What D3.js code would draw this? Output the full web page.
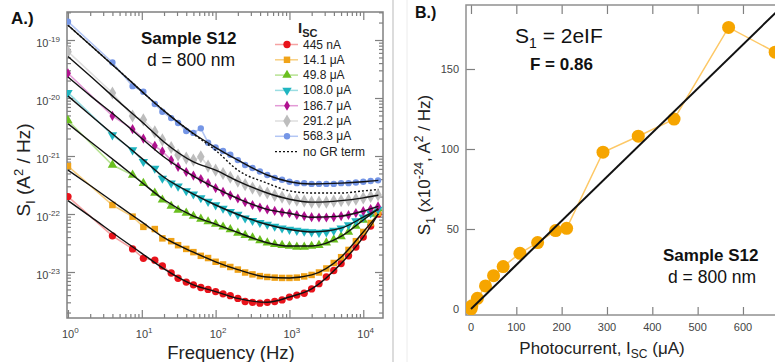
<!DOCTYPE html>
<html>
<head>
<meta charset="utf-8">
<script src="https://cdn.jsdelivr.net/npm/d3@7"></script>
<style>
  body { margin: 0; background: #fff; }
  svg { display: block; font-family: "Liberation Sans", Arial, sans-serif; }
</style>
</head>
<body>
<div id="chart"></div>
<script>
// ---- panel A: noise spectra, one array per photocurrent ----
const freqs = [1, 4, 7.5, 10.5, 15, 19, 25, 31, 40, 50, 63, 79, 100, 126, 158, 200, 251, 316, 398, 501,
  631, 794, 1000, 1259, 1585, 1995, 2512, 3162, 3981, 5012, 6310, 7943, 10000, 12589, 15849];

const red445 = [2.0e-22, 4.2e-23, 2.5e-23, 1.72e-23, 1.6e-23, 1.27e-23, 9.6e-24, 7.8e-24, 6.7e-24, 6.0e-24,
  5.4e-24, 5.0e-24, 4.6e-24, 4.2e-24, 3.9e-24, 3.5e-24, 3.1e-24, 3.0e-24, 2.9e-24, 3.0e-24,
  3.1e-24, 3.3e-24, 3.7e-24, 4.0e-24, 4.3e-24, 5.1e-24, 6.3e-24, 8.2e-24, 1.06e-23, 1.4e-23,
  1.9e-23, 2.7e-23, 4.0e-23, 6.2e-23, 1.0e-22];
const orange14 = [6.7e-22, 1.43e-22, 9.0e-23, 6.0e-23, 5.5e-23, 3.8e-23, 3.4e-23, 2.9e-23, 2.5e-23, 2.2e-23,
  1.9e-23, 1.74e-23, 1.5e-23, 1.35e-23, 1.22e-23, 1.1e-23, 9.8e-24, 9.1e-24, 8.5e-24, 8.2e-24,
  8.0e-24, 7.9e-24, 7.9e-24, 8.0e-24, 8.4e-24, 8.9e-24, 9.8e-24, 1.15e-23, 1.43e-23, 1.8e-23,
  2.4e-23, 3.4e-23, 4.9e-23, 7.0e-23, 1.05e-22];
const green49 = [4.1e-21, 7.0e-22, 4.7e-22, 3.4e-22, 2.3e-22, 1.75e-22, 1.37e-22, 1.17e-22, 1.04e-22, 9.2e-23,
  8.2e-23, 7.4e-23, 6.7e-23, 6.0e-23, 5.4e-23, 4.7e-23, 4.3e-23, 3.9e-23, 3.5e-23, 3.2e-23,
  3.0e-23, 2.9e-23, 2.8e-23, 2.7e-23, 2.7e-23, 2.8e-23, 2.9e-23, 3.2e-23, 3.6e-23, 4.1e-23,
  4.9e-23, 6.2e-23, 7.9e-23, 1.0e-22, 1.24e-22];
const cyan108 = [1.24e-20, 2.3e-21, 1.27e-21, 8.0e-22, 6.1e-22, 4.1e-22, 3.4e-22, 3.0e-22, 2.5e-22, 2.2e-22,
  1.9e-22, 1.64e-22, 1.43e-22, 1.25e-22, 1.1e-22, 9.8e-23, 8.5e-23, 7.7e-23, 7.1e-23, 6.6e-23,
  6.1e-23, 5.7e-23, 5.4e-23, 5.2e-23, 5.0e-23, 4.9e-23, 4.8e-23, 4.9e-23, 5.2e-23, 5.7e-23,
  6.5e-23, 7.6e-23, 8.8e-23, 1.04e-22, 1.2e-22];
const magenta186 = [2.67e-20, 4.9e-21, 2.9e-21, 2.0e-21, 1.5e-21, 1.2e-21, 8.5e-22, 6.5e-22, 5.3e-22, 4.6e-22,
  4.0e-22, 3.4e-22, 2.8e-22, 2.4e-22, 2.1e-22, 1.85e-22, 1.6e-22, 1.43e-22, 1.29e-22, 1.2e-22,
  1.13e-22, 1.07e-22, 1.03e-22, 9.6e-23, 9.2e-23, 8.8e-23, 8.7e-23, 8.7e-23, 8.8e-23, 9.2e-23,
  9.6e-23, 1.04e-22, 1.12e-22, 1.22e-22, 1.35e-22];
const gray291 = [6.3e-20, 1.22e-20, 4.9e-21, 4.2e-21, 2.6e-21, 1.9e-21, 1.4e-21, 1.04e-21, 9.2e-22, 8.5e-22,
  9.7e-22, 6.7e-22, 5.7e-22, 5.0e-22, 4.3e-22, 3.7e-22, 3.2e-22, 2.8e-22, 2.5e-22, 2.3e-22,
  2.1e-22, 1.96e-22, 1.8e-22, 1.73e-22, 1.67e-22, 1.6e-22, 1.6e-22, 1.6e-22, 1.67e-22, 1.7e-22,
  1.73e-22, 1.8e-22, 1.89e-22, 2.0e-22, 2.13e-22];
const blue568 = [2.07e-19, 4.1e-20, 1.6e-20, 1.28e-20, 7.9e-21, 5.8e-21, 4.5e-21, 3.7e-21, 2.7e-21, 2.5e-21,
  3.0e-21, 1.7e-21, 1.4e-21, 1.22e-21, 1.05e-21, 8.5e-22, 7.0e-22, 6.2e-22, 5.4e-22, 4.7e-22,
  4.2e-22, 3.9e-22, 3.6e-22, 3.4e-22, 3.4e-22, 3.3e-22, 3.3e-22, 3.3e-22, 3.3e-22, 3.4e-22,
  3.4e-22, 3.5e-22, 3.6e-22, 3.7e-22, 3.8e-22];

// fitted model curves (black) and the fit without GR term (dotted)
const fitFreqs = [1, 2, 5, 10, 20, 50, 100, 200, 500, 1000, 2000, 5000, 10000, 16000];
const fitRed = [1.7e-22, 9.1e-23, 3.9e-23, 2.1e-23, 1.13e-23, 6.0e-24, 4.6e-24, 3.5e-24, 3.0e-24, 3.7e-24, 5.1e-24, 1.4e-23, 4.0e-23, 1.0e-22];
const fitOrange = [5.7e-22, 3.1e-22, 1.35e-22, 7.3e-23, 3.9e-23, 2.2e-23, 1.5e-23, 1.1e-23, 8.2e-24, 7.9e-24, 8.9e-24, 1.8e-23, 4.9e-23, 1.0e-22];
const fitGreen = [3.6e-21, 1.78e-21, 7.1e-22, 3.5e-22, 1.76e-22, 9.2e-23, 6.7e-23, 4.8e-23, 3.2e-23, 2.8e-23, 2.8e-23, 4.1e-23, 7.9e-23, 1.24e-22];
const fitCyan = [1.08e-20, 5.1e-21, 1.9e-21, 9.1e-22, 4.3e-22, 2.2e-22, 1.43e-22, 9.8e-23, 6.6e-23, 5.4e-23, 4.9e-23, 5.7e-23, 8.8e-23, 1.2e-22];
const fitMagenta = [2.3e-20, 1.1e-20, 4.3e-21, 2.0e-21, 9.6e-22, 4.5e-22, 2.8e-22, 1.85e-22, 1.2e-22, 1.03e-22, 8.8e-23, 9.2e-23, 1.12e-22, 1.35e-22];
const fitGray = [5.2e-20, 2.4e-20, 8.4e-21, 3.9e-21, 1.74e-21, 7.9e-22, 5.7e-22, 3.7e-22, 2.3e-22, 1.8e-22, 1.6e-22, 1.7e-22, 1.9e-22, 2.1e-22];
const fitBlue = [1.8e-19, 8.2e-20, 2.9e-20, 1.3e-20, 6.0e-21, 2.44e-21, 1.4e-21, 8.5e-22, 4.7e-22, 3.6e-22, 3.3e-22, 3.4e-22, 3.6e-22, 3.8e-22];
const fitNoGR = [1.8e-19, 8.2e-20, 2.9e-20, 1.3e-20, 6.0e-21, 2.4e-21, 1.25e-21, 5.7e-22, 3.4e-22, 2.5e-22, 2.3e-22, 2.3e-22, 2.5e-22, 2.65e-22];

const legendLabels = ["445 nA", "14.1 \u03bcA", "49.8 \u03bcA", "108.0 \u03bcA", "186.7 \u03bcA", "291.2 \u03bcA", "568.3 \u03bcA"];
const xTicksA = [1, 10, 100, 1000, 10000];
const yTicksA = [1e-19, 1e-20, 1e-21, 1e-22, 1e-23];

// ---- panel B: S1 vs photocurrent ----
const iscB = [0.4, 2, 14.1, 32, 49.8, 71, 108.0, 147, 186.7, 211, 291.2, 369, 448, 568.3, 671];
const s1B = [0, 2, 6.7, 14.4, 20.8, 26.5, 34.8, 41.5, 49, 50.4, 98, 108, 118.7, 176, 160.5];
const xTicksB = [0, 100, 200, 300, 400, 500, 600, 700];
const yTicksB = [0, 50, 100, 150];
const eCharge = 1.602e-19, fano = 0.86;

const svg = d3.select("#chart").append("svg").attr("width", 775).attr("height", 362);

function sup(text, base, exp, baseSize, expSize) {
  text.append("tspan").text(base).attr("font-size", baseSize);
  text.append("tspan").text(exp).attr("font-size", expSize).attr("dy", -5);
}

// ================= Panel A =================
const xA = d3.scaleLog().domain([0.97, 18500]).range([67, 383]);
const yA = d3.scaleLog().domain([1.61e-24, 3.04e-19]).range([318, 12]);
const gA = svg.append("g");

gA.append("clipPath").attr("id", "clipA").append("rect")
  .attr("x", 67).attr("y", 12).attr("width", 316).attr("height", 306);

const minorX = [];
xTicksA.forEach(d => { for (let m = 2; m <= 9; m++) if (d * m < 18500) minorX.push(d * m); });
const minorY = [];
[1e-24, 1e-23, 1e-22, 1e-21, 1e-20, 1e-19].forEach(d => { for (let m = 2; m <= 9; m++) if (d * m < 3.04e-19 && d * m > 1.61e-24) minorY.push(d * m); });

function tickAxis(g, axis, tr) {
  const a = g.append("g").attr("transform", tr).call(axis);
  a.select(".domain").remove();
  a.selectAll("line").attr("stroke", "#808080").attr("stroke-width", 1.2);
  return a;
}
tickAxis(gA, d3.axisBottom(xA).tickValues(xTicksA).tickSize(-8).tickFormat(""), "translate(0,318)");
tickAxis(gA, d3.axisBottom(xA).tickValues(minorX).tickSize(-4).tickFormat(""), "translate(0,318)");
tickAxis(gA, d3.axisTop(xA).tickValues(xTicksA).tickSize(-8).tickFormat(""), "translate(0,12)");
tickAxis(gA, d3.axisTop(xA).tickValues(minorX).tickSize(-4).tickFormat(""), "translate(0,12)");
tickAxis(gA, d3.axisLeft(yA).tickValues(yTicksA).tickSize(-8).tickFormat(""), "translate(67,0)");
tickAxis(gA, d3.axisLeft(yA).tickValues(minorY).tickSize(-4).tickFormat(""), "translate(67,0)");
tickAxis(gA, d3.axisRight(yA).tickValues(yTicksA).tickSize(-8).tickFormat(""), "translate(383,0)");
tickAxis(gA, d3.axisRight(yA).tickValues(minorY).tickSize(-4).tickFormat(""), "translate(383,0)");

gA.append("rect").attr("x", 67).attr("y", 12).attr("width", 316).attr("height", 306)
  .attr("fill", "none").attr("stroke", "#808080").attr("stroke-width", 1.5);

xTicksA.forEach(v => {
  const t = gA.append("text").attr("x", xA(v) - 6).attr("y", 338).attr("fill", "#444");
  sup(t, "10", String(Math.round(Math.log10(v))), 11, 8);
});
yTicksA.forEach(v => {
  const t = gA.append("text").attr("x", 60).attr("y", yA(v) + 7).attr("text-anchor", "end").attr("fill", "#444");
  sup(t, "10", String(Math.round(Math.log10(v))), 11, 8);
});

const series = [
  { vals: red445, fit: fitRed, color: "#e8131b", light: "#f5a3a3", sym: d3.symbolCircle, size: 42 },
  { vals: orange14, fit: fitOrange, color: "#f0a319", light: "#f8cf80", sym: d3.symbolSquare, size: 42 },
  { vals: green49, fit: fitGreen, color: "#6abf1f", light: "#b7e293", sym: d3.symbolTriangle, size: 38 },
  { vals: cyan108, fit: fitCyan, color: "#1fb5c0", light: "#9adde2", sym: d3.symbolTriangle, size: 38, flip: true },
  { vals: magenta186, fit: fitMagenta, color: "#b0128f", light: "#e39ad6", sym: d3.symbolDiamond, size: 30 },
  { vals: gray291, fit: fitGray, color: "#bdbdbd", light: "#dedede", sym: d3.symbolDiamond, size: 50 },
  { vals: blue568, fit: fitBlue, color: "#7596e6", light: "#b3c6f4", sym: d3.symbolCircle, size: 32 }
];

const lineA = d3.line().x(d => xA(d[0])).y(d => yA(d[1]));
const fitLine = d3.line().x(d => xA(d[0])).y(d => yA(d[1])).curve(d3.curveMonotoneX);
const plotA = gA.append("g").attr("clip-path", "url(#clipA)");

series.forEach(s => {
  const pts = freqs.map((f, i) => [f, s.vals[i]]);
  plotA.append("path").attr("d", lineA(pts)).attr("fill", "none")
    .attr("stroke", s.light).attr("stroke-width", 1.6);
  plotA.selectAll(null).data(pts).enter().append("path")
    .attr("d", d3.symbol().type(s.sym).size(s.size))
    .attr("transform", d => `translate(${xA(d[0])},${yA(d[1])})` + (s.flip ? " rotate(180)" : ""))
    .attr("fill", s.color);
});
series.forEach(s => {
  plotA.append("path").attr("d", fitLine(fitFreqs.map((f, i) => [f, s.fit[i]])))
    .attr("fill", "none").attr("stroke", "#111").attr("stroke-width", 1.4);
});
plotA.append("path").attr("d", fitLine(fitFreqs.map((f, i) => [f, fitNoGR[i]])))
  .attr("fill", "none").attr("stroke", "#111").attr("stroke-width", 1.4).attr("stroke-dasharray", "2,2");

// legend
const leg = gA.append("g");
const lt = leg.append("text").attr("x", 298).attr("y", 33).attr("font-weight", "bold").attr("fill", "#222");
lt.append("tspan").text("I").attr("font-size", 15);
lt.append("tspan").text("SC").attr("font-size", 11).attr("dy", 4);
series.forEach((s, i) => {
  const y = 44.5 + i * 15.3;
  leg.append("line").attr("x1", 275).attr("x2", 298).attr("y1", y).attr("y2", y)
    .attr("stroke", s.light).attr("stroke-width", 1.5);
  leg.append("path").attr("d", d3.symbol().type(s.sym).size(s.size))
    .attr("transform", `translate(287,${y})` + (s.flip ? " rotate(180)" : "")).attr("fill", s.color);
  leg.append("text").attr("x", 303).attr("y", y + 4).attr("font-size", 12).attr("fill", "#222").text(legendLabels[i]);
});
const yNo = 44.5 + 7 * 15.3;
leg.append("line").attr("x1", 275).attr("x2", 298).attr("y1", yNo).attr("y2", yNo)
  .attr("stroke", "#111").attr("stroke-width", 1.4).attr("stroke-dasharray", "2,2");
leg.append("text").attr("x", 303).attr("y", yNo + 4).attr("font-size", 12).attr("fill", "#222").text("no GR term");

gA.append("text").attr("x", 141).attr("y", 44).attr("font-size", 17).attr("font-weight", "bold").attr("fill", "#111").text("Sample S12");
gA.append("text").attr("x", 147).attr("y", 66).attr("font-size", 17.5).attr("fill", "#111").text("d = 800 nm");
gA.append("text").attr("x", 11).attr("y", 24).attr("font-size", 17).attr("font-weight", "bold").attr("fill", "#111").text("A.)");

gA.append("text").attr("x", 231).attr("y", 359).attr("text-anchor", "middle").attr("font-size", 18.5)
  .attr("fill", "#222").text("Frequency (Hz)");
const yt = gA.append("text").attr("transform", "translate(30,170) rotate(-90)").attr("text-anchor", "middle")
  .attr("font-size", 19).attr("fill", "#222");
yt.append("tspan").text("S");
yt.append("tspan").text("I").attr("font-size", 13).attr("dy", 5);
yt.append("tspan").text(" (A").attr("dy", -5);
yt.append("tspan").text("2").attr("font-size", 13).attr("dy", -7);
yt.append("tspan").text(" / Hz)").attr("dy", 7);

// separators between the two panels
svg.append("line").attr("x1", 393).attr("x2", 393).attr("y1", 0).attr("y2", 362).attr("stroke", "#d0d0d0").attr("stroke-width", 1.5);
svg.append("line").attr("x1", 407).attr("x2", 407).attr("y1", 0).attr("y2", 362).attr("stroke", "#ececec").attr("stroke-width", 1);

// ================= Panel B =================
const xB = d3.scaleLinear().domain([-11, 700]).range([466, 788.3]);
const yB = d3.scaleLinear().domain([-3.75, 190]).range([315, 5]);
const gB = svg.append("g");

gB.append("clipPath").attr("id", "clipB").append("rect")
  .attr("x", 466).attr("y", 5).attr("width", 330).attr("height", 310);

tickAxis(gB, d3.axisLeft(yB).tickValues(yTicksB).tickSize(-9).tickFormat(""), "translate(466,0)");
tickAxis(gB, d3.axisBottom(xB).tickValues(xTicksB).tickSize(-8).tickFormat(""), "translate(0,315)");
tickAxis(gB, d3.axisTop(xB).tickValues(xTicksB).tickSize(-9).tickFormat(""), "translate(0,5)");
gB.append("rect").attr("x", 466).attr("y", 5).attr("width", 330).attr("height", 310)
  .attr("fill", "none").attr("stroke", "#909090").attr("stroke-width", 1.5);

yTicksB.forEach(v => gB.append("text").attr("x", 459).attr("y", yB(v) + 4).attr("text-anchor", "end")
  .attr("font-size", 11).attr("fill", "#444").text(v));
xTicksB.slice(0, 7).forEach(v => gB.append("text").attr("x", xB(v)).attr("y", 331).attr("text-anchor", "middle")
  .attr("font-size", 11).attr("fill", "#444").text(v));

const plotB = gB.append("g").attr("clip-path", "url(#clipB)");
const ptsB = iscB.map((v, i) => [v, s1B[i]]);
plotB.append("path").attr("d", d3.line().x(d => xB(d[0])).y(d => yB(d[1]))(ptsB))
  .attr("fill", "none").attr("stroke", "#fdc866").attr("stroke-width", 1.5);
plotB.selectAll("circle").data(ptsB).enter().append("circle")
  .attr("cx", d => xB(d[0])).attr("cy", d => yB(d[1])).attr("r", 6.5).attr("fill", "#f6a500");
// S1 = 2eIF, I in uA, S1 in 1e-24 A^2/Hz
const fitB = [0, 700].map(i => [i, 2 * eCharge * i * 1e-6 * fano / 1e-24]);
plotB.append("path").attr("d", d3.line().x(d => xB(d[0])).y(d => yB(d[1]))(fitB))
  .attr("fill", "none").attr("stroke", "#111").attr("stroke-width", 2);

gB.append("text").attr("x", 415).attr("y", 18).attr("font-size", 16).attr("font-weight", "bold").attr("fill", "#111").text("B.)");
const st = gB.append("text").attr("x", 515).attr("y", 43).attr("font-size", 21).attr("fill", "#111");
st.append("tspan").text("S");
st.append("tspan").text("1").attr("font-size", 14).attr("dy", 5);
st.append("tspan").text(" = 2eIF").attr("dy", -5);
gB.append("text").attr("x", 530).attr("y", 70).attr("font-size", 17).attr("font-weight", "bold").attr("fill", "#111").text("F = 0.86");
gB.append("text").attr("x", 663).attr("y", 261).attr("font-size", 17).attr("font-weight", "bold").attr("fill", "#111").text("Sample S12");
gB.append("text").attr("x", 668).attr("y", 283).attr("font-size", 17.5).attr("fill", "#111").text("d = 800 nm");

const xtB = gB.append("text").attr("x", 602).attr("y", 354).attr("text-anchor", "middle").attr("font-size", 17).attr("fill", "#222");
xtB.append("tspan").text("Photocurrent, I");
xtB.append("tspan").text("SC").attr("font-size", 12).attr("dy", 4);
xtB.append("tspan").text(" (\u03bcA)").attr("dy", -4);
const ytB = gB.append("text").attr("transform", "translate(430,165) rotate(-90)").attr("text-anchor", "middle")
  .attr("font-size", 17).attr("fill", "#222");
ytB.append("tspan").text("S");
ytB.append("tspan").text("1").attr("font-size", 12).attr("dy", 5);
ytB.append("tspan").text(" (x10").attr("dy", -5);
ytB.append("tspan").text("-24").attr("font-size", 12).attr("dy", -7);
ytB.append("tspan").text(", A").attr("dy", 7);
ytB.append("tspan").text("2").attr("font-size", 12).attr("dy", -7);
ytB.append("tspan").text(" / Hz)").attr("dy", 7);
</script>
</body>
</html>
